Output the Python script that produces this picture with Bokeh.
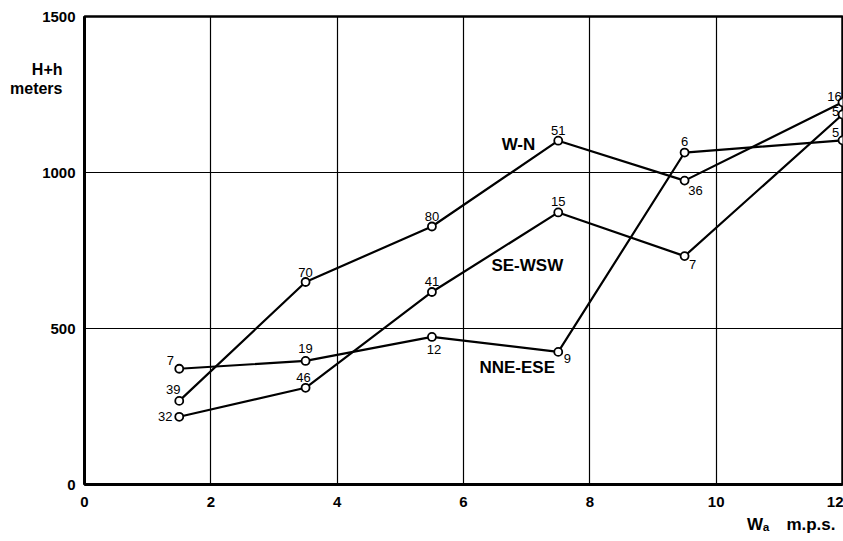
from bokeh.plotting import figure
from bokeh.models import (ColumnDataSource, Label, FixedTicker, Range1d, Title,
                          LinearAxis)
from bokeh.core.properties import value
from bokeh.embed import file_html
from bokeh.resources import INLINE

# ---- data ----
wind_speed = [1.5, 3.5, 5.5, 7.5, 9.5, 12]
wn_height = [268, 649, 827, 1102, 974, 1225]
se_height = [217, 310, 617, 872, 732, 1186]
nne_height = [371, 396, 473, 425, 1064, 1103]
wn_count = ["39", "70", "80", "51", "36", "16"]
se_count = ["32", "46", "41", "15", "7", "5"]
nne_count = ["7", "19", "12", "9", "6", "5"]
series_names = ["W-N", "SE-WSW", "NNE-ESE"]
x_ticks = [0, 2, 4, 6, 8, 10, 12]
y_ticks = [0, 500, 1000, 1500]
y_title_lines = ["H+h", "meters"]

# ---- label placement (screen px offsets) ----
wn_dx = [-6, 0, 0, 0, 11, -8]
wn_dy = [-11, -10, -10, -10, 10, -6]
se_dx = [-14, -2, 0, 0, 8, -7]
se_dy = [0, -10, -10, -11, 8, -3]
nne_dx = [-9, 0, 2, 9, 0, -7]
nne_dy = [-8, -12, 13, 7, -11, -8]
y_title_pos = [1329, 1268]   # vertical anchor of the two title lines (axis units)

FONT = "Liberation Sans"

p = figure(width=843, height=536, output_backend="svg", toolbar_location=None,
           x_range=Range1d(0, 12), y_range=Range1d(0, 1500),
           min_border_left=84, min_border_right=1, min_border_top=16,
           min_border_bottom=50)
p.background_fill_color = "white"
p.border_fill_color = "white"
p.outline_line_color = "black"
p.outline_line_width = 2.5

for ax in (p.xaxis[0], p.yaxis[0]):
    ax.axis_line_width = 3
    ax.axis_line_color = "black"
    ax.major_tick_line_color = None
    ax.minor_tick_line_color = None
    ax.major_label_text_font = FONT
    ax.major_label_text_font_style = "bold"
    ax.major_label_text_color = "black"
    ax.major_label_text_font_size = "15px"

p.xaxis[0].ticker = FixedTicker(ticks=x_ticks)
p.yaxis[0].ticker = FixedTicker(ticks=y_ticks)
p.xaxis[0].major_label_standoff = 6
p.yaxis[0].major_label_standoff = 3

# y title: a label-only axis outside the value axis, lines placed near the top
title_axis = LinearAxis(
    ticker=FixedTicker(ticks=y_title_pos),
    major_label_overrides={v: t for v, t in zip(y_title_pos, y_title_lines)},
    axis_line_color=None, major_tick_line_color=None, minor_tick_line_color=None,
    major_label_standoff=-29, major_label_text_font=FONT,
    major_label_text_font_style="bold", major_label_text_font_size="16px",
    major_label_text_color="black")
p.add_layout(title_axis, "left")

# x-axis title, right-aligned below the axis
p.add_layout(Title(text="W\u2090\u2002\u2002m.p.s.", align="right", offset=7,
                   standoff=6, text_font=FONT, text_font_style="bold",
                   text_font_size="17px", text_color="black"), "below")

p.xgrid.ticker = FixedTicker(ticks=x_ticks)
p.ygrid.ticker = FixedTicker(ticks=y_ticks)
for g in (p.xgrid[0], p.ygrid[0]):
    g.grid_line_color = "black"
    g.grid_line_width = 1.2
    g.grid_line_alpha = 1.0

series = [
    (wn_height, wn_count, wn_dx, wn_dy),
    (se_height, se_count, se_dx, se_dy),
    (nne_height, nne_count, nne_dx, nne_dy),
]
for heights, counts, dxs, dys in series:
    src = ColumnDataSource(dict(x=wind_speed, y=heights, t=counts, dx=dxs, dy=dys))
    p.line("x", "y", source=src, line_color="black", line_width=2.2)
    p.scatter("x", "y", source=src, marker="circle", size=8, fill_color="white",
              line_color="black", line_width=1.8)
    p.text("x", "y", text="t", source=src, x_offset="dx", y_offset="dy",
           text_align="center", text_baseline="middle",
           text_font=value(FONT), text_font_size="13px", text_color="black")

name_pos = [(6.87, 1089), (7.01, 703), (6.85, 374)]
for name, (nx, ny) in zip(series_names, name_pos):
    p.add_layout(Label(x=nx, y=ny, text=name, text_align="center",
                       text_baseline="middle", text_font=FONT,
                       text_font_style="bold", text_font_size="17px",
                       text_color="black"))

open("out.html", "w").write(file_html(p, INLINE))
